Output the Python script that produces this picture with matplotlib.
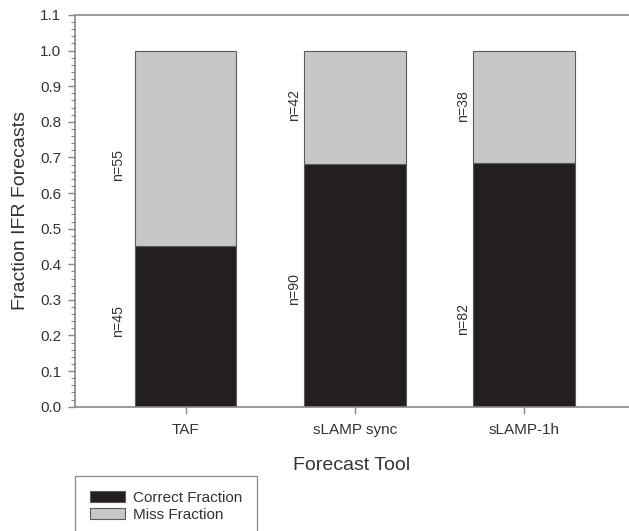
import matplotlib
matplotlib.use("Agg")
import matplotlib.pyplot as plt
import numpy as np
from matplotlib.ticker import MultipleLocator
from matplotlib.patches import Patch

categories = ["TAF", "sLAMP sync", "sLAMP-1h"]
correct_n = [45, 90, 82]
miss_n = [55, 42, 38]
correct_label_y = [0.24, 0.33, 0.245]
miss_label_y = [0.68, 0.847, 0.845]

plt.rcParams['font.family'] = ['Liberation Sans', 'DejaVu Sans']

correct_n_a = np.array(correct_n, dtype=float)
miss_n_a = np.array(miss_n, dtype=float)
total = correct_n_a + miss_n_a
correct_frac = correct_n_a / total
miss_frac = miss_n_a / total

fig = plt.figure(figsize=(6.29, 5.31), dpi=100)
ax = fig.add_axes([75/629, 1-406.7/531, (629-75)/629, (406.7-15)/531])

x = np.arange(len(categories))
dark = "#231f20"
light = "#c6c7c9"
edge = "#5a5a5a"
textc = "#333333"
spinec = "#888888"

ax.bar(x, correct_frac, width=0.6, color=dark, edgecolor=edge, linewidth=0.8)
ax.bar(x, miss_frac, width=0.6, bottom=correct_frac, color=light, edgecolor=edge, linewidth=0.8)

offsets = [-0.40, -0.36, -0.36]
for i in range(len(categories)):
    ax.text(x[i] + offsets[i], correct_label_y[i], f"n={correct_n[i]}", rotation=90,
            ha='center', va='center', fontsize=10.2, color=textc)
    ax.text(x[i] + offsets[i], miss_label_y[i], f"n={miss_n[i]}", rotation=90,
            ha='center', va='center', fontsize=10.2, color=textc)

ax.set_xlim(-0.653, 2.62)
ax.set_ylim(0, 1.1)
yt = np.round(np.arange(0, 1.11, 0.1), 1)
ax.set_yticks(yt)
ax.set_yticklabels([f"{v:.1f}" for v in yt])
ax.yaxis.set_minor_locator(MultipleLocator(0.02))
ax.set_xticks(x)
ax.set_xticklabels(categories)

ax.spines['right'].set_visible(False)
for s in ['left', 'top', 'bottom']:
    ax.spines[s].set_color(spinec)
    ax.spines[s].set_linewidth(1.2)

ax.tick_params(axis='both', which='major', direction='out', length=5, width=1, color=spinec,
               labelsize=11, labelcolor=textc)
ax.tick_params(axis='y', which='minor', direction='out', length=3, width=0.8, color=spinec)
ax.tick_params(axis='x', which='major', pad=7)
ax.tick_params(axis='y', which='major', pad=5)

ax.set_ylabel("Fraction IFR Forecasts", fontsize=14, color=textc, labelpad=8)
ax.set_xlabel("Forecast Tool", fontsize=14, color=textc, labelpad=14)

handles = [Patch(facecolor=dark, edgecolor=edge, linewidth=0.8, label="Correct Fraction"),
           Patch(facecolor=light, edgecolor=edge, linewidth=0.8, label="Miss Fraction")]
leg = fig.legend(handles=handles, loc='upper left', bbox_to_anchor=(75/629, 1-476/531),
                 frameon=True, fancybox=False, fontsize=11, handlelength=2.35, handleheight=0.75,
                 labelspacing=0.22, handletextpad=0.5, borderpad=0.95, borderaxespad=0)
leg.get_frame().set_edgecolor("#777777")
leg.get_frame().set_linewidth(1.0)
for t in leg.get_texts():
    t.set_color(textc)

fig.savefig("out.png", dpi=100)
